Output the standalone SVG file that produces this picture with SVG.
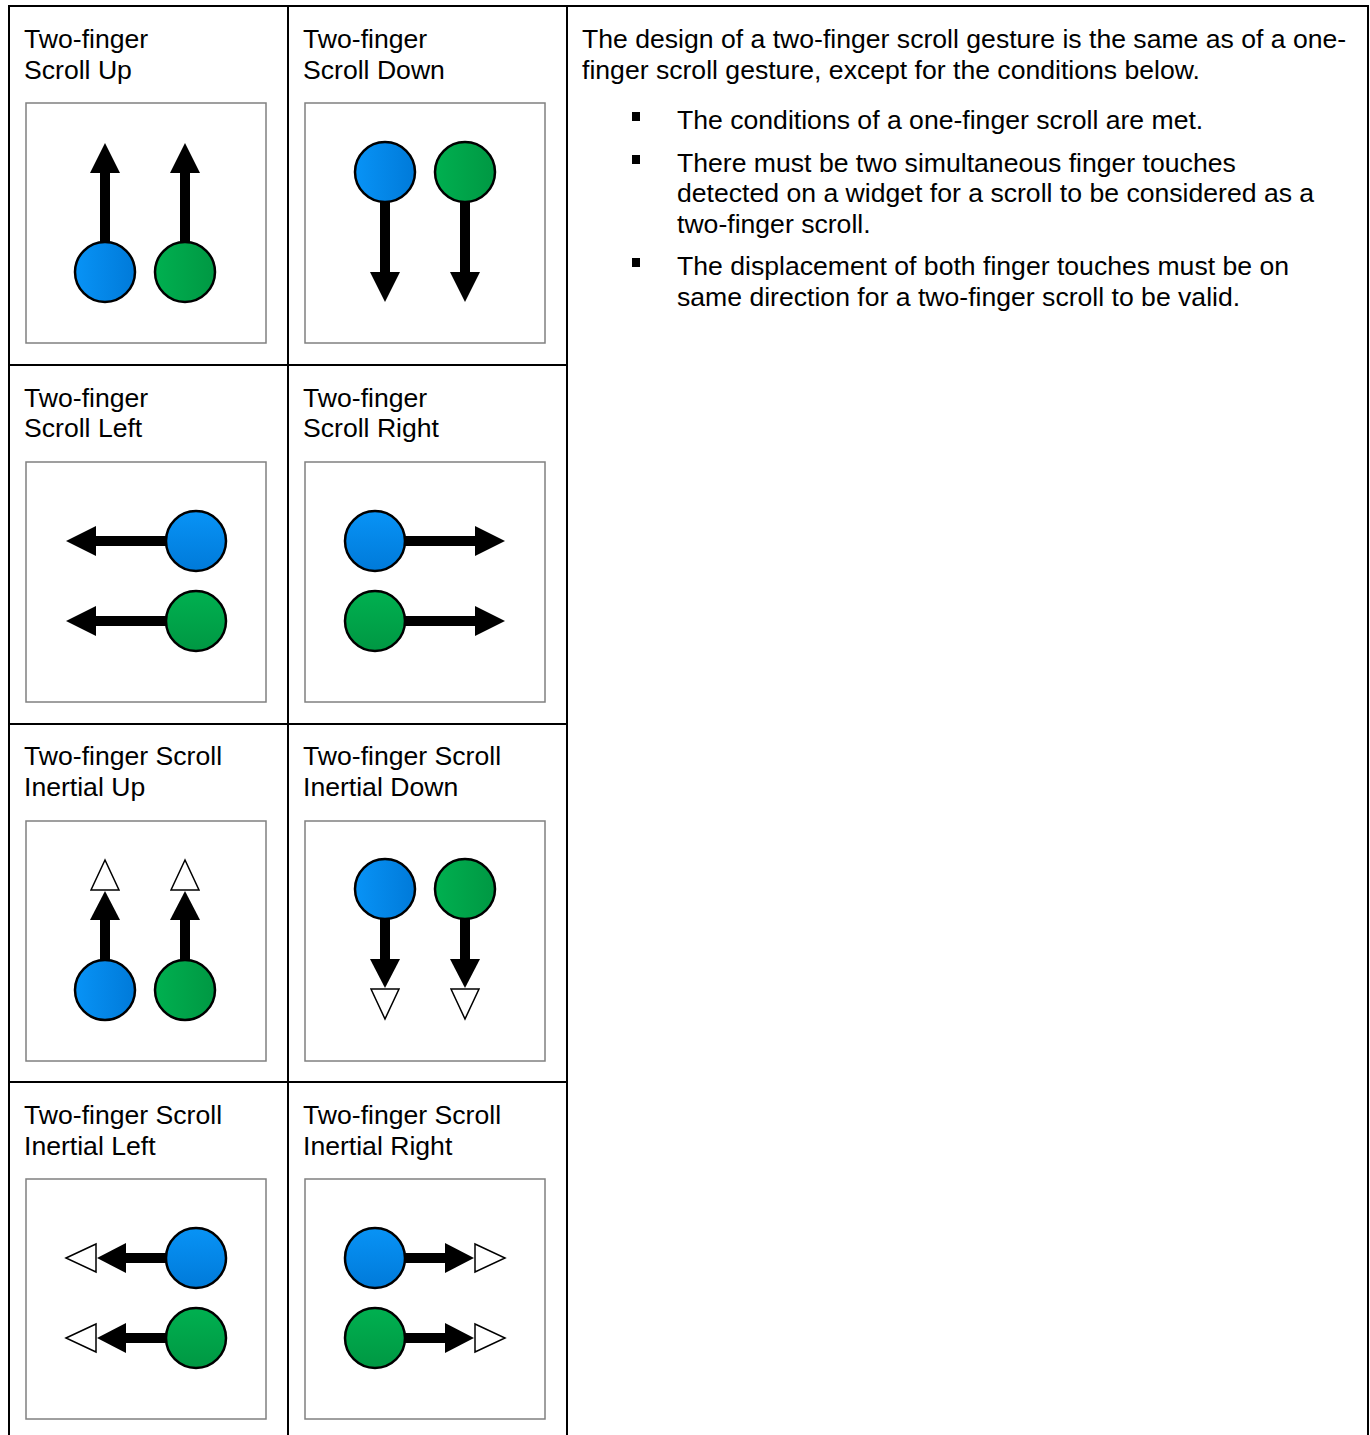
<svg xmlns="http://www.w3.org/2000/svg" width="1370" height="1435" viewBox="0 0 1370 1435">
<style>
text{font-family:"Liberation Sans",Arial,sans-serif;font-size:26.6px;fill:#000}
.grid{stroke:#000;stroke-width:2;fill:none}
.box{fill:#fff;stroke:#808080;stroke-width:1.5}
.b{fill:url(#gb);stroke:#000;stroke-width:2.5}
.g{fill:url(#gg);stroke:#000;stroke-width:2.5}
.bv{fill:url(#gbv);stroke:#000;stroke-width:2.5}
.gv{fill:url(#ggv);stroke:#000;stroke-width:2.5}
.sh{fill:#000}
.hd{fill:#000}
.ho{fill:#fff;stroke:#000;stroke-width:1.5}
.bul{fill:#000}
</style>
<defs>
<linearGradient id="gb" x1="0" y1="0" x2="1" y2="0"><stop offset="0" stop-color="#0893f6"/><stop offset="1" stop-color="#007ad9"/></linearGradient>
<linearGradient id="gg" x1="0" y1="0" x2="1" y2="0"><stop offset="0" stop-color="#00b050"/><stop offset="1" stop-color="#009843"/></linearGradient>
<linearGradient id="gbv" x1="0" y1="0" x2="0" y2="1"><stop offset="0" stop-color="#0893f6"/><stop offset="1" stop-color="#007ad9"/></linearGradient>
<linearGradient id="ggv" x1="0" y1="0" x2="0" y2="1"><stop offset="0" stop-color="#00b050"/><stop offset="1" stop-color="#009843"/></linearGradient>
</defs>
<rect width="1370" height="1435" fill="#fff"/>
<g id="table-grid" class="grid">
<path d="M9 1435V6H1368V1435M288 6V1435M567 6V1435M9 365H567M9 724H567M9 1082H567"/>
</g>

<g id="scroll-up">
<text x="24" y="48">Two-finger</text><text x="24" y="79">Scroll Up</text>
<rect class="box" x="26" y="103" width="240" height="240"/>
<rect class="sh" x="100" y="172" width="10" height="80"/><polygon class="hd" points="105,143 90,173 120,173"/>
<rect class="sh" x="180" y="172" width="10" height="80"/><polygon class="hd" points="185,143 170,173 200,173"/>
<circle class="b" cx="105" cy="272" r="30"/><circle class="g" cx="185" cy="272" r="30"/>
</g>

<g id="scroll-down">
<text x="303" y="48">Two-finger</text><text x="303" y="79">Scroll Down</text>
<rect class="box" x="305" y="103" width="240" height="240"/>
<rect class="sh" x="380" y="190" width="10" height="83"/><polygon class="hd" points="370,272 400,272 385,302"/>
<rect class="sh" x="460" y="190" width="10" height="83"/><polygon class="hd" points="450,272 480,272 465,302"/>
<circle class="b" cx="385" cy="172" r="30"/><circle class="g" cx="465" cy="172" r="30"/>
</g>

<g id="scroll-left">
<text x="24" y="407">Two-finger</text><text x="24" y="437">Scroll Left</text>
<rect class="box" x="26" y="462" width="240" height="240"/>
<rect class="sh" x="95" y="536" width="90" height="10"/><polygon class="hd" points="66,541 96,526 96,556"/>
<rect class="sh" x="95" y="616" width="90" height="10"/><polygon class="hd" points="66,621 96,606 96,636"/>
<circle class="bv" cx="196" cy="541" r="30"/><circle class="gv" cx="196" cy="621" r="30"/>
</g>

<g id="scroll-right">
<text x="303" y="407">Two-finger</text><text x="303" y="437">Scroll Right</text>
<rect class="box" x="305" y="462" width="240" height="240"/>
<rect class="sh" x="385" y="536" width="91" height="10"/><polygon class="hd" points="475,526 475,556 505,541"/>
<rect class="sh" x="385" y="616" width="91" height="10"/><polygon class="hd" points="475,606 475,636 505,621"/>
<circle class="bv" cx="375" cy="541" r="30"/><circle class="gv" cx="375" cy="621" r="30"/>
</g>

<g id="inertial-up">
<text x="24" y="765">Two-finger Scroll</text><text x="24" y="796">Inertial Up</text>
<rect class="box" x="26" y="821" width="240" height="240"/>
<rect class="sh" x="100" y="918" width="10" height="55"/><polygon class="hd" points="105,891 90,920 120,920"/><polygon class="ho" points="105,860 91,890 119,890"/>
<rect class="sh" x="180" y="918" width="10" height="55"/><polygon class="hd" points="185,891 170,920 200,920"/><polygon class="ho" points="185,860 171,890 199,890"/>
<circle class="b" cx="105" cy="990" r="30"/><circle class="g" cx="185" cy="990" r="30"/>
</g>

<g id="inertial-down">
<text x="303" y="765">Two-finger Scroll</text><text x="303" y="796">Inertial Down</text>
<rect class="box" x="305" y="821" width="240" height="240"/>
<rect class="sh" x="380" y="905" width="10" height="57"/><polygon class="hd" points="370,959 400,959 385,988"/><polygon class="ho" points="371,989 399,989 385,1019"/>
<rect class="sh" x="460" y="905" width="10" height="57"/><polygon class="hd" points="450,959 480,959 465,988"/><polygon class="ho" points="451,989 479,989 465,1019"/>
<circle class="b" cx="385" cy="889" r="30"/><circle class="g" cx="465" cy="889" r="30"/>
</g>

<g id="inertial-left">
<text x="24" y="1124">Two-finger Scroll</text><text x="24" y="1155">Inertial Left</text>
<rect class="box" x="26" y="1179" width="240" height="240"/>
<rect class="sh" x="122" y="1253" width="60" height="10"/><polygon class="hd" points="97,1258 126,1243 126,1273"/><polygon class="ho" points="66,1258 96,1244 96,1272"/>
<rect class="sh" x="122" y="1333" width="60" height="10"/><polygon class="hd" points="97,1338 126,1323 126,1353"/><polygon class="ho" points="66,1338 96,1324 96,1352"/>
<circle class="bv" cx="196" cy="1258" r="30"/><circle class="gv" cx="196" cy="1338" r="30"/>
</g>

<g id="inertial-right">
<text x="303" y="1124">Two-finger Scroll</text><text x="303" y="1155">Inertial Right</text>
<rect class="box" x="305" y="1179" width="240" height="240"/>
<rect class="sh" x="389" y="1253" width="59" height="10"/><polygon class="hd" points="445,1243 445,1273 474,1258"/><polygon class="ho" points="475,1244 475,1272 505,1258"/>
<rect class="sh" x="389" y="1333" width="59" height="10"/><polygon class="hd" points="445,1323 445,1353 474,1338"/><polygon class="ho" points="475,1324 475,1352 505,1338"/>
<circle class="bv" cx="375" cy="1258" r="30"/><circle class="gv" cx="375" cy="1338" r="30"/>
</g>

<g id="description">
<text x="582" y="48">The design of a two-finger scroll gesture is the same as of a one-</text>
<text x="582" y="79">finger scroll gesture, except for the conditions below.</text>
<rect class="bul" x="632" y="112" width="8" height="9"/>
<text x="677" y="129">The conditions of a one-finger scroll are met.</text>
<rect class="bul" x="632" y="155" width="8" height="9"/>
<text x="677" y="172">There must be two simultaneous finger touches</text>
<text x="677" y="202">detected on a widget for a scroll to be considered as a</text>
<text x="677" y="233">two-finger scroll.</text>
<rect class="bul" x="632" y="258" width="8" height="9"/>
<text x="677" y="275">The displacement of both finger touches must be on</text>
<text x="677" y="306">same direction for a two-finger scroll to be valid.</text>
</g>
</svg>
